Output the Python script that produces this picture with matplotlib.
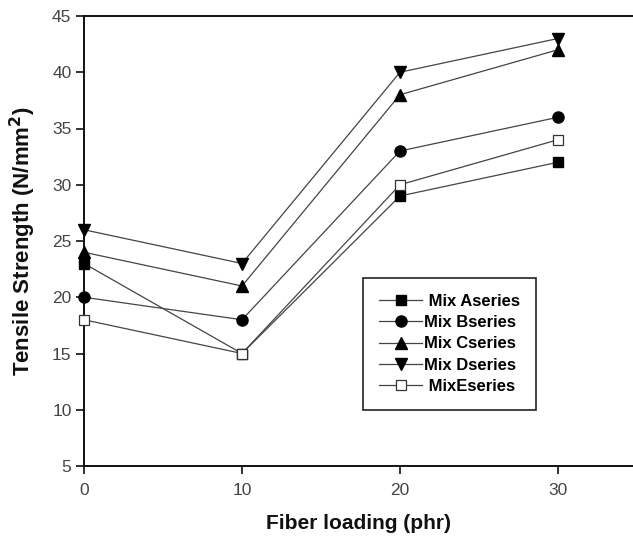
import matplotlib
matplotlib.use("Agg")
import matplotlib.pyplot as plt

plt.rcParams['font.family'] = ['Liberation Sans', 'DejaVu Sans']

fiber_loading = [0, 10, 20, 30]
mix_a = [23, 15, 29, 32]
mix_b = [20, 18, 33, 36]
mix_c = [24, 21, 38, 42]
mix_d = [26, 23, 40, 43]
mix_e = [18, 15, 30, 34]
series_labels = [" Mix Aseries", "Mix Bseries", "Mix Cseries", "Mix Dseries", " MixEseries"]
x_ticks = [0, 10, 20, 30]
y_ticks = [5, 10, 15, 20, 25, 30, 35, 40, 45]

fig = plt.figure(figsize=(6.33, 5.37), dpi=100)
ax = fig.add_axes([84 / 633, 1 - 466 / 537, 1 - 84 / 633, (466 - 16) / 537])

styles = [
    dict(marker='s', mfc='black', mec='black', ms=7),
    dict(marker='o', mfc='black', mec='black', ms=8),
    dict(marker='^', mfc='black', mec='black', ms=8.5),
    dict(marker='v', mfc='black', mec='black', ms=8.5),
    dict(marker='s', mfc='white', mec='#333333', ms=7.5, mew=0.9),
]
for values, label, st in zip([mix_a, mix_b, mix_c, mix_d, mix_e], series_labels, styles):
    ax.plot(fiber_loading, values, color='#444444', lw=0.9, label=label,
            clip_on=False, zorder=3, **st)

ax.set_xlim(0, 34.75)
ax.set_ylim(5, 45)
ax.set_xticks(x_ticks)
ax.set_yticks(y_ticks)
ax.spines['right'].set_visible(False)
for side in ['left', 'bottom', 'top']:
    ax.spines[side].set_linewidth(1.4)
    ax.spines[side].set_color('#111111')
ax.tick_params(axis='both', direction='out', length=6, width=1.2,
               labelsize=12.5, labelcolor='#444444', color='#111111')
ax.tick_params(axis='x', pad=6)
ax.tick_params(axis='y', pad=3)

ax.set_xlabel("Fiber loading (phr)", fontsize=15, fontweight='bold',
              color='#111111', labelpad=12)
ax.set_ylabel("Tensile Strength (N/mm$^\\mathbf{2}$)", fontsize=16, fontweight='bold',
              color='#111111', labelpad=10)

leg = ax.legend(loc='upper left', bbox_to_anchor=((363 - 84) / 549, 1 - (278 - 16) / 450),
                frameon=True, fancybox=False, edgecolor='#222222', framealpha=1,
                prop={'weight': 'bold', 'size': 12}, handlelength=2.6,
                handletextpad=0.1, labelspacing=0.38, borderpad=0.95,
                borderaxespad=0)
leg.get_frame().set_linewidth(1.2)

fig.savefig("out.png", dpi=100)
